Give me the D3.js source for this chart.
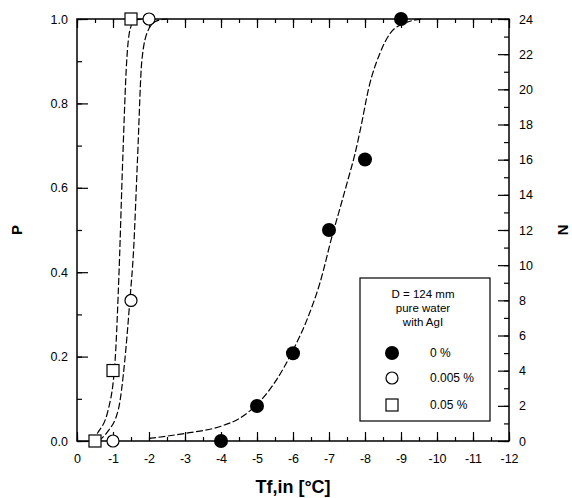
<!DOCTYPE html>
<html>
<head>
<meta charset="utf-8">
<script src="https://cdn.jsdelivr.net/npm/d3@7"></script>
<style>
    body { margin: 0; background: #fff; }
    svg { font-family: "Liberation Sans", Arial, sans-serif; }
    .dash { fill: none; stroke: #000; stroke-width: 1.2; stroke-dasharray: 7,2.5; }
</style>
</head>
<body>
<svg width="572" height="498"></svg>
<script>
// measured points, P = N / 24
const tf0 = [-4, -5, -6, -7, -8, -9],
    p0 = [0, 0.083, 0.208, 0.5, 0.667, 1.0];
const tf005 = [-1, -1.5, -2],
    p005 = [0, 0.333, 1.0];
const tf05 = [-0.5, -1, -1.5],
    p05 = [0, 0.167, 1.0];

// fitted curves
const fit0 = [[-2.0, 0.006], [-3.0, 0.018], [-4.0, 0.035], [-4.5, 0.053], [-5.0, 0.087],
    [-5.55, 0.146], [-6.0, 0.215], [-6.4, 0.29], [-6.75, 0.375], [-7.1, 0.49], [-7.3, 0.55],
    [-7.53, 0.62], [-7.72, 0.68], [-7.9, 0.75], [-8.1, 0.835], [-8.42, 0.92], [-8.69, 0.965],
    [-9.1, 0.99], [-9.6, 1.0]];
const fit005 = [[-0.6, 0.0], [-0.83, 0.02], [-1.15, 0.075], [-1.33, 0.193], [-1.47, 0.335],
    [-1.57, 0.45], [-1.68, 0.666], [-1.80, 0.9], [-1.97, 0.972], [-2.2, 0.995], [-2.5, 1.0]];
const fit05 = [[-0.4, 0.0], [-0.58, 0.02], [-0.87, 0.075], [-1.06, 0.193], [-1.17, 0.406],
    [-1.27, 0.666], [-1.38, 0.9], [-1.47, 0.974], [-1.6, 0.997], [-1.8, 1.0]];

const xTicks = d3.range(0, -13, -1),
    yTicks = [0, 0.2, 0.4, 0.6, 0.8, 1.0],
    nTicks = d3.range(0, 25, 2);
const legendHead = ["D = 124 mm", "pure water", "with AgI"],
    legendLabels = ["0 %", "0.005 %", "0.05 %"];

const svg = d3.select("svg");
const mLeft = 77, mRight = 509, mTop = 19, mBottom = 441;

const x = d3.scaleLinear().domain([0, -12]).range([mLeft, mRight]);
const y = d3.scaleLinear().domain([0, 1]).range([mBottom, mTop]);
const yN = d3.scaleLinear().domain([0, 24]).range([mBottom, mTop]);

// frame
svg.append("rect")
    .attr("x", mLeft).attr("y", mTop)
    .attr("width", mRight - mLeft).attr("height", mBottom - mTop)
    .attr("fill", "none").attr("stroke", "#000").attr("stroke-width", 1.5);

function styleAxis(g) {
    g.select(".domain").remove();
    g.selectAll("line").attr("stroke", "#000").attr("stroke-width", 1.2);
    g.selectAll("text").attr("font-size", 12.5).attr("fill", "#000");
}

// bottom
svg.append("g").attr("transform", `translate(0,${mBottom})`)
    .call(d3.axisBottom(x).tickValues(d3.range(0, -12.5, -0.5)).tickSize(-4).tickFormat(""))
    .call(styleAxis);
svg.append("g").attr("transform", `translate(0,${mBottom})`)
    .call(d3.axisBottom(x).tickValues(xTicks).tickSize(-9).tickPadding(13)
        .tickFormat(d => String(d)))
    .call(styleAxis);

// top
svg.append("g").attr("transform", `translate(0,${mTop})`)
    .call(d3.axisTop(x).tickValues(d3.range(0, -12.5, -0.5)).tickSize(-4).tickFormat(""))
    .call(styleAxis);
svg.append("g").attr("transform", `translate(0,${mTop})`)
    .call(d3.axisTop(x).tickValues(xTicks).tickSize(-9).tickFormat(""))
    .call(styleAxis);

// left
svg.append("g").attr("transform", `translate(${mLeft},0)`)
    .call(d3.axisLeft(y).tickValues(d3.range(0, 1.01, 0.1)).tickSize(-5).tickFormat(""))
    .call(styleAxis);
svg.append("g").attr("transform", `translate(${mLeft},0)`)
    .call(d3.axisLeft(y).tickValues(yTicks).tickSize(-11).tickPadding(9)
        .tickFormat(d3.format(".1f")))
    .call(styleAxis);

// right
svg.append("g").attr("transform", `translate(${mRight},0)`)
    .call(d3.axisRight(yN).tickValues(d3.range(0, 25, 1)).tickSize(-5).tickFormat(""))
    .call(styleAxis);
svg.append("g").attr("transform", `translate(${mRight},0)`)
    .call(d3.axisRight(yN).tickValues(nTicks).tickSize(-11).tickPadding(10))
    .call(styleAxis);

// titles
svg.append("text")
    .attr("x", (mLeft + mRight) / 2).attr("y", 493)
    .attr("text-anchor", "middle")
    .attr("font-size", 18).attr("font-weight", "bold")
    .text("Tf,in  [°C]");
svg.append("text")
    .attr("transform", `translate(22,${(mTop + mBottom) / 2}) rotate(-90)`)
    .attr("text-anchor", "middle")
    .attr("font-size", 15).attr("font-weight", "bold")
    .text("P");
svg.append("text")
    .attr("transform", `translate(558,${(mTop + mBottom) / 2}) rotate(90)`)
    .attr("text-anchor", "middle")
    .attr("font-size", 15).attr("font-weight", "bold")
    .text("N");

// fitted curves
const line = d3.line()
    .x(d => x(d[0]))
    .y(d => y(d[1]))
    .curve(d3.curveMonotoneX);

[fit0, fit005, fit05].forEach(function (fit) {
    svg.append("path")
        .datum(fit)
        .attr("class", "dash")
        .attr("d", line);
});

// markers
const pts0 = tf0.map((t, i) => [t, p0[i]]),
    pts005 = tf005.map((t, i) => [t, p005[i]]),
    pts05 = tf05.map((t, i) => [t, p05[i]]);

svg.append("g").selectAll("circle")
    .data(pts0)
    .enter().append("circle")
    .attr("cx", d => x(d[0])).attr("cy", d => y(d[1]))
    .attr("r", 7).attr("fill", "#000");

svg.append("g").selectAll("circle")
    .data(pts005)
    .enter().append("circle")
    .attr("cx", d => x(d[0])).attr("cy", d => y(d[1]))
    .attr("r", 6).attr("fill", "#fff").attr("stroke", "#000").attr("stroke-width", 1.2);

svg.append("g").selectAll("rect")
    .data(pts05)
    .enter().append("rect")
    .attr("x", d => x(d[0]) - 6).attr("y", d => y(d[1]) - 6)
    .attr("width", 12).attr("height", 12)
    .attr("fill", "#fff").attr("stroke", "#000").attr("stroke-width", 1.2);

// legend
const lg = svg.append("g");
lg.append("rect")
    .attr("x", 360).attr("y", 278)
    .attr("width", 130).attr("height", 143)
    .attr("fill", "#fff").attr("stroke", "#000").attr("stroke-width", 1.2);

lg.selectAll("text.head")
    .data(legendHead)
    .enter().append("text")
    .attr("class", "head")
    .attr("x", 423).attr("y", (d, i) => 298 + i * 14)
    .attr("text-anchor", "middle")
    .attr("font-size", 11.5)
    .text(d => d);

const rowY = [353, 378, 405];
lg.append("circle").attr("cx", 392).attr("cy", rowY[0]).attr("r", 7).attr("fill", "#000");
lg.append("circle").attr("cx", 392).attr("cy", rowY[1]).attr("r", 6)
    .attr("fill", "#fff").attr("stroke", "#000").attr("stroke-width", 1.2);
lg.append("rect").attr("x", 386).attr("y", rowY[2] - 6).attr("width", 12).attr("height", 12)
    .attr("fill", "#fff").attr("stroke", "#000").attr("stroke-width", 1.2);

lg.selectAll("text.lab")
    .data(legendLabels)
    .enter().append("text")
    .attr("class", "lab")
    .attr("x", 430).attr("y", (d, i) => rowY[i] + 4)
    .attr("font-size", 12)
    .text(d => d);
</script>
</body>
</html>
